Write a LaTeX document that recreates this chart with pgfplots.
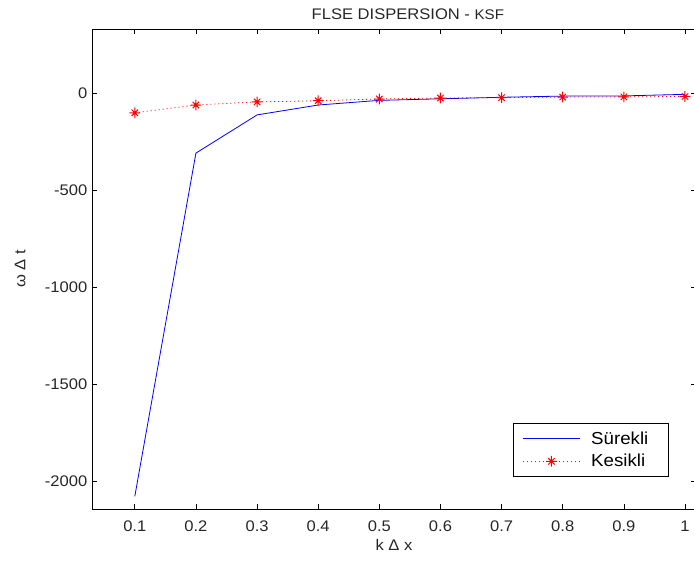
\documentclass[border=0pt]{standalone}
\usepackage{pgfplots}
\pgfplotsset{compat=1.18}
\usepackage{fontspec}
\setmainfont{Liberation Sans}[FakeStretch=1.08]
\pgfdeclareplotmark{mstar}{%
  \pgfpathmoveto{\pgfqpoint{-\pgfplotmarksize}{0pt}}\pgfpathlineto{\pgfqpoint{\pgfplotmarksize}{0pt}}%
  \pgfpathmoveto{\pgfqpoint{0pt}{-\pgfplotmarksize}}\pgfpathlineto{\pgfqpoint{0pt}{\pgfplotmarksize}}%
  \pgfpathmoveto{\pgfqpoint{-0.6\pgfplotmarksize}{-0.6\pgfplotmarksize}}\pgfpathlineto{\pgfqpoint{0.6\pgfplotmarksize}{0.6\pgfplotmarksize}}%
  \pgfpathmoveto{\pgfqpoint{-0.6\pgfplotmarksize}{0.6\pgfplotmarksize}}\pgfpathlineto{\pgfqpoint{0.6\pgfplotmarksize}{-0.6\pgfplotmarksize}}%
  \pgfusepathqstroke}
\begin{document}
\begin{tikzpicture}
\begin{axis}[name=ax, at={(0,0)}, anchor=south west, scale only axis,
  width=453pt, height=360pt,
  xmin=0.03, xmax=1.018, ymin=-2145, ymax=330,
  xtick={0.1,0.2,0.3,0.4,0.5,0.6,0.7,0.8,0.9,1},
  xticklabels={0.1,0.2,0.3,0.4,0.5,0.6,0.7,0.8,0.9,1},
  ytick={-2000,-1500,-1000,-500,0},
  yticklabels={-2000,-1500,-1000,-500,0},
  tick align=inside, xtick pos=both, ytick pos=both, major tick length=3.75pt,
  tick style={black, line width=0.5pt},
  axis line style={line width=0.6pt},
  tick label style={font=\fontsize{11.5}{13}\selectfont, text=black!85},
  xticklabel style={yshift=-5.25pt},
  every axis title shift/.style={},
  title={FLSE DISPERSION - {\fontsize{10.5}{12}\selectfont KSF}},
  title style={at={(axis description cs:0.523,1.033)}, anchor=center, yshift=-6.75pt, font=\fontsize{11.5}{13}\selectfont, text=black!85},
  xlabel={k Δ x},
  xlabel style={at={(axis description cs:0.5,-0.075)}, anchor=center, font=\fontsize{11.5}{13}\selectfont, text=black!85},
  ylabel={ω Δ t},
  ylabel style={at={(axis description cs:-0.119,0.5)}, anchor=center, font=\fontsize{11.5}{13}\selectfont, text=black!85},
  legend style={at={(0.955,0.179)}, anchor=north east, draw=black, line width=0.6pt,
    font=\fontsize{13}{15}\selectfont, inner xsep=7pt, inner ysep=4pt, row sep=2pt,
    nodes={inner xsep=8pt}},
  legend cell align=left,
  legend image code/.code={\draw[mark repeat=2,mark phase=2,#1] plot coordinates {(0pt,0pt)(21.5pt,0pt)(43pt,0pt)};},
]
\addplot[blue, line width=0.6pt] coordinates {
 (0.1,-2080) (0.2,-310) (0.3,-113) (0.4,-62) (0.5,-38) (0.6,-30) (0.7,-22) (0.8,-16) (0.9,-15) (1.0,-7)};
\addlegendentry{Sürekli}
\addplot[red, line width=0.6pt, dash pattern=on 0.75pt off 2.25pt, mark=mstar, mark size=4pt, mark options={solid, line width=0.75pt}] coordinates {
 (0.1,-102) (0.2,-62) (0.3,-46) (0.4,-40) (0.5,-31) (0.6,-26) (0.7,-24) (0.8,-21) (0.9,-20) (1.0,-18)};
\addlegendentry{Kesikli}
\end{axis}
\pgfresetboundingbox
\useasboundingbox (-69pt,-45.75pt) rectangle (451.5pt,381.75pt);
\end{tikzpicture}
\end{document}
